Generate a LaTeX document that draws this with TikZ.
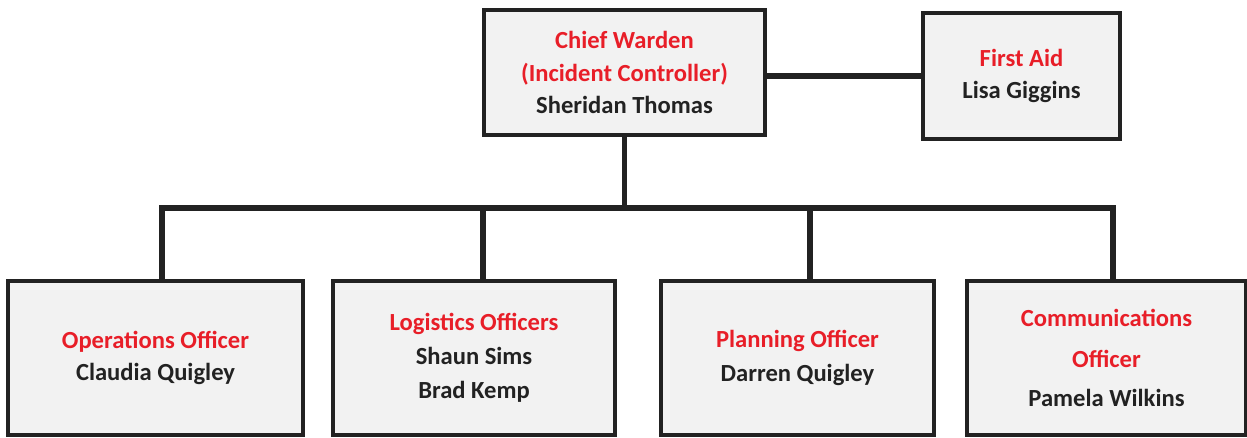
\documentclass[tikz,border=0pt]{standalone}
\usepackage{fontspec}
\setmainfont{Carlito}
\usepackage{tikz}
\usepackage{xcolor}
\usetikzlibrary{positioning}
\definecolor{titlered}{RGB}{232, 30, 40}
\definecolor{boxfill}{RGB}{242, 242, 242}
\definecolor{linedark}{RGB}{34, 34, 34}
\tikzstyle{role} = [
    rectangle,
    draw=linedark,
    line width=2.2pt,
    fill=boxfill,
    align=center,
    inner sep=0pt,
    text=linedark,
    font=\fontsize{14}{18.5}\selectfont\bfseries
]
\tikzstyle{link} = [
    line width=3pt,
    draw=linedark,
    line join=miter
]
\newcommand{\post}[1]{\textcolor{titlered}{#1}}

\begin{document}
\begin{tikzpicture}[x=0.02cm, y=-0.02cm]
        \useasboundingbox (0,0) rectangle (1247,437);

        % Top row
        \node[role, minimum width=5.62cm, minimum height=2.5cm] (chief) at (624.5,72.5)
            {\post{Chief Warden}\\ \post{(Incident Controller)}\\ Sheridan Thomas};
        \node[role, minimum width=3.94cm, minimum height=2.52cm] (firstaid) at (1021.5,76)
            {\post{First Aid}\\ Lisa Giggins};

        % Officers
        \node[role, minimum width=5.9cm, minimum height=3.08cm] (ops) at (155.5,358)
            {\post{Operations Officer}\\ Claudia Quigley};
        \node[role, minimum width=5.64cm, minimum height=3.08cm] (logist) at (474,358)
            {\post{Logistics Officers}\\[1pt] Shaun Sims\\[1pt] Brad Kemp};
        \node[role, minimum width=5.46cm, minimum height=3.08cm] (plan) at (797.5,358)
            {\post{Planning Officer}\\[1pt] Darren Quigley};
        \node[role, minimum width=5.58cm, minimum height=3.08cm] (comms) at (1106.5,358)
            {\post{Communications}\\[5pt] \post{Officer}\\[4pt] Pamela Wilkins};

        % Bus line
        \coordinate (busL) at (162,208);
        \coordinate (busR) at (1113,208);

        % Connectors
        \draw[link] (chief.east |- firstaid.west) -- (firstaid.west);
        \draw[link] (chief.south) -- (chief.south |- busL);
        \draw[link] (162,0 |- ops.north) -- (busL) -- (busR) -- (1113,0 |- comms.north);
        \foreach \n/\x in {logist/483, plan/810} {
            \draw[link] (\x,208) -- (\x,0 |- \n.north);
        }
    \end{tikzpicture}
\end{document}
